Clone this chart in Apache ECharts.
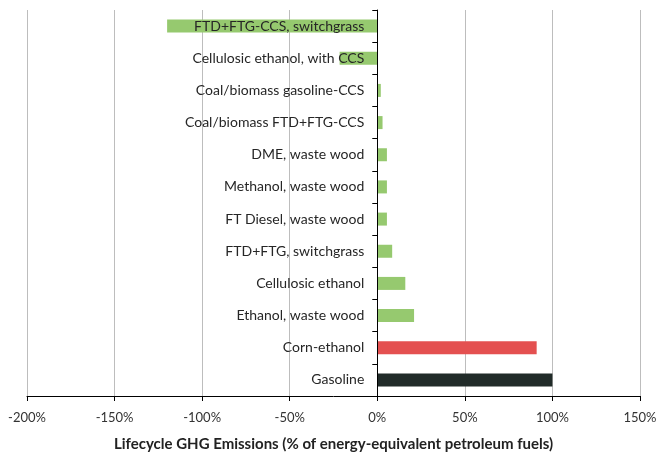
<!DOCTYPE html>
<html>
<head>
<meta charset="utf-8">
<script src="https://cdn.jsdelivr.net/npm/echarts@6/dist/echarts.min.js"></script>
<style>
  html, body { margin: 0; padding: 0; background: #fff; }
  #chart { width: 656px; height: 455px; }
</style>
</head>
<body>
<div id="chart"></div>
<script>
// categories listed bottom to top
var fuels = ['Gasoline', 'Corn-ethanol', 'Ethanol, waste wood', 'Cellulosic ethanol',
    'FTD+FTG, switchgrass', 'FT Diesel, waste wood', 'Methanol, waste wood', 'DME, waste wood',
    'Coal/biomass FTD+FTG-CCS', 'Coal/biomass gasoline-CCS', 'Cellulosic ethanol, with CCS',
    'FTD+FTG-CCS, switchgrass'];
var emissions = [100, 91, 21, 16, 8.5, 5.5, 5.5, 5.5, 3, 2, -21.5, -120];
var xTicks = [-200, -150, -100, -50, 0, 50, 100, 150];

var barColors = {'Gasoline': '#212b29', 'Corn-ethanol': '#e45050'};
var defaultColor = '#96c96f';

var W = 656, gridLeft = 27, gridRight = 16;
var xMin = xTicks[0], xMax = xTicks[xTicks.length - 1];
// move the category axis to the 0% line
var zeroOffset = (W - gridLeft - gridRight) * (0 - xMin) / (xMax - xMin);

var chart = echarts.init(document.getElementById('chart'));
var option = {
    animation: false,
    textStyle: { fontFamily: 'Lato' },
    grid: { left: gridLeft, right: gridRight, top: 10, bottom: 59, containLabel: false, outerBoundsMode: 'none' },
    xAxis: {
        type: 'value',
        min: xMin,
        max: xMax,
        interval: 50,
        axisLine: { show: true, lineStyle: { color: '#000', width: 1 } },
        axisTick: { show: true, length: 5, lineStyle: { color: '#000' } },
        axisLabel: { formatter: '{value}%', color: '#333', fontSize: 13, margin: 15 },
        splitLine: { show: true, lineStyle: { color: '#bdbdbd', width: 1 } },
        name: 'Lifecycle GHG Emissions (% of energy-equivalent petroleum fuels)',
        nameLocation: 'middle',
        nameGap: 41,
        nameTextStyle: { fontSize: 15, fontWeight: 'bold', color: '#222' }
    },
    yAxis: {
        type: 'category',
        data: fuels,
        z: 10,
        position: 'left',
        offset: -zeroOffset,
        axisLine: { show: true, onZero: false, lineStyle: { color: '#000' } },
        axisTick: { show: true, length: 5, inside: false, lineStyle: { color: '#000' } },
        axisLabel: { color: '#262626', fontSize: 14, margin: 13 },
        splitLine: { show: false }
    },
    series: [{
        type: 'bar',
        barWidth: 13,
        data: emissions.map(function (v, i) {
            return { value: v, itemStyle: { color: barColors[fuels[i]] || defaultColor } };
        })
    }]
};
chart.setOption(option);
</script>
</body>
</html>
